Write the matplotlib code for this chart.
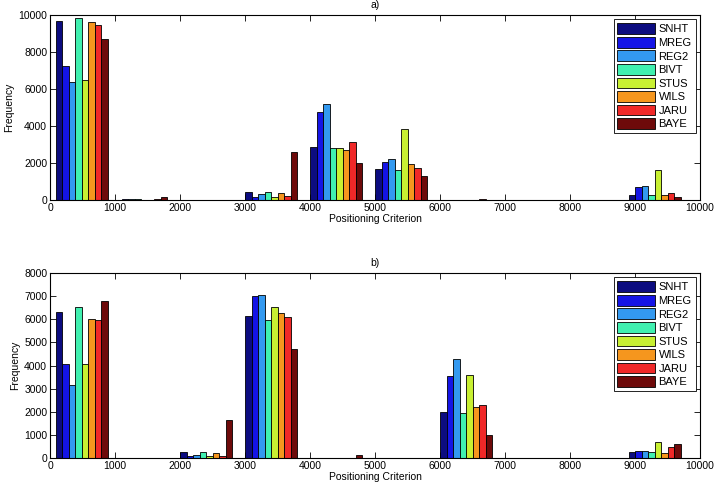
import numpy as np
import matplotlib
matplotlib.use("Agg")
import matplotlib.pyplot as plt

plt.rcParams['font.family'] = ['Liberation Sans', 'DejaVu Sans']

series = ["SNHT", "MREG", "REG2", "BIVT", "STUS", "WILS", "JARU", "BAYE"]
bin_centers = [490, 1400, 2400, 3400, 4400, 5400, 6400, 7400, 8400, 9300]

# rows: bins, cols: series
freq_a = [
    [9700, 7250, 6400, 9850, 6500, 9600, 9450, 8700],
    [20, 30, 50, 30, 20, 20, 30, 150],
    [10, 10, 10, 10, 10, 10, 10, 10],
    [420, 150, 300, 420, 150, 400, 200, 2600],
    [2850, 4750, 5200, 2800, 2800, 2700, 3150, 2000],
    [1700, 2050, 2200, 1600, 3850, 1950, 1750, 1300],
    [10, 10, 10, 10, 10, 10, 30, 10],
    [5, 5, 5, 5, 5, 5, 10, 5],
    [0, 0, 0, 0, 0, 0, 0, 0],
    [250, 700, 750, 250, 1600, 250, 400, 150],
]
freq_b = [
    [6300, 4050, 3150, 6550, 4050, 6000, 5980, 6800],
    [10, 10, 10, 10, 10, 10, 10, 20],
    [250, 70, 120, 250, 80, 220, 100, 1650],
    [6150, 7000, 7050, 5980, 6520, 6250, 6100, 4700],
    [10, 10, 10, 10, 10, 10, 10, 150],
    [10, 10, 10, 10, 10, 10, 10, 10],
    [2000, 3550, 4300, 1950, 3600, 2200, 2300, 1000],
    [10, 10, 10, 10, 10, 10, 10, 10],
    [0, 0, 0, 0, 0, 0, 0, 0],
    [250, 300, 320, 270, 700, 230, 480, 600],
]

colors = ["#0c0c80", "#1414e6", "#3399f0", "#40f0b0",
          "#c8f032", "#f5961e", "#f02828", "#6e0a0a"]

fig = plt.figure(figsize=(7.2, 4.87), dpi=100)
ax_a = fig.add_axes([50/720, 1-200/487, 650/720, 185/487])
ax_b = fig.add_axes([50/720, 1-458/487, 650/720, 185/487])

def draw(ax, data, ymax, ystep, title):
    data = np.array(data)
    w = 100
    for i, name in enumerate(series):
        x = np.array(bin_centers) - 400 + w/2 + i*w
        ax.bar(x, data[:, i], width=w, color=colors[i], edgecolor="black",
               linewidth=0.6, label=name)
    ax.set_xlim(0, 10000)
    ax.set_ylim(0, ymax)
    ax.set_xticks(np.arange(0, 10001, 1000))
    ax.set_yticks(np.arange(0, ymax+1, ystep))
    ax.tick_params(direction="in", top=True, right=True, labelsize=7.5,
                   length=4, pad=2, width=0.6)
    for s in ax.spines.values():
        s.set_linewidth(0.8)
    ax.set_ylabel("Frequency", fontsize=7.5, labelpad=3)
    ax.set_xlabel("Positioning Criterion", fontsize=7.5, labelpad=1)
    ax.set_title(title, fontsize=7.5, pad=5)
    leg = ax.legend(loc="upper right", fontsize=8, handlelength=3.4,
                    handleheight=1.1, labelspacing=0.22, borderpad=0.35,
                    handletextpad=0.3, borderaxespad=0.4, fancybox=False,
                    edgecolor="black", framealpha=1)
    leg.get_frame().set_linewidth(0.6)

draw(ax_a, freq_a, 10000, 2000, "a)")
draw(ax_b, freq_b, 8000, 1000, "b)")

fig.savefig("out.png", dpi=100)
